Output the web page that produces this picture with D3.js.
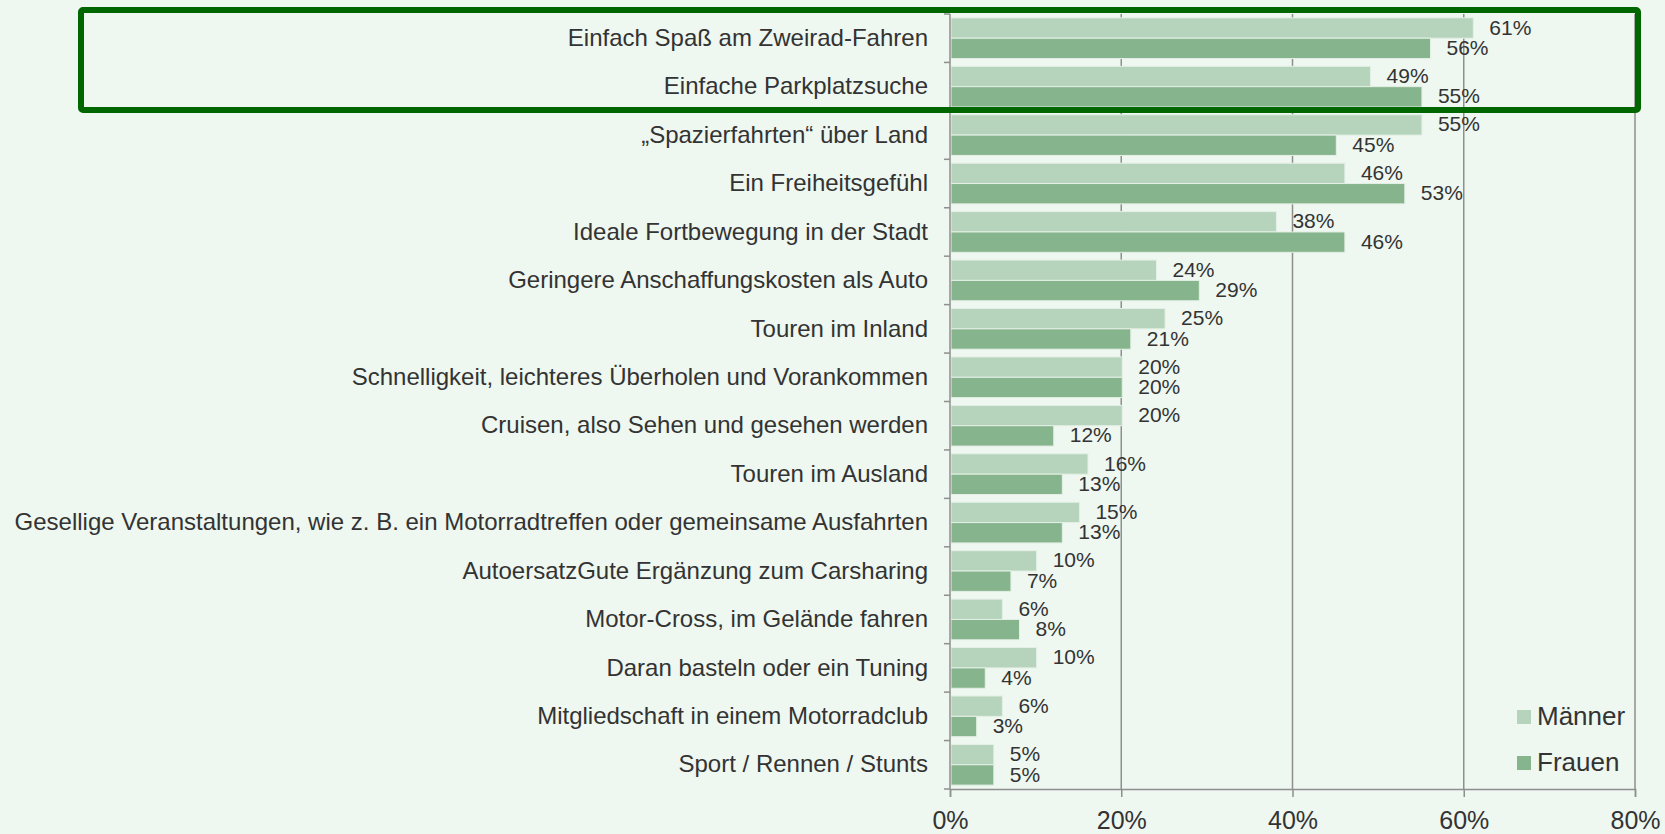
<!DOCTYPE html>
<html>
<head>
<meta charset="utf-8">
<script src="https://cdn.jsdelivr.net/npm/d3@7"></script>
<style>
  body { margin: 0; background: #eef7f0; }
  text { font-family: "Liberation Sans", Arial, sans-serif; fill: #333; }
</style>
</head>
<body>
<div id="display"></div>
<script>
// Werte
const categories = [
    "Einfach Spaß am Zweirad-Fahren",
    "Einfache Parkplatzsuche",
    "„Spazierfahrten“ über Land",
    "Ein Freiheitsgefühl",
    "Ideale Fortbewegung in der Stadt",
    "Geringere Anschaffungskosten als Auto",
    "Touren im Inland",
    "Schnelligkeit, leichteres Überholen und Vorankommen",
    "Cruisen, also Sehen und gesehen werden",
    "Touren im Ausland",
    "Gesellige Veranstaltungen, wie z. B. ein Motorradtreffen oder gemeinsame Ausfahrten",
    "AutoersatzGute Ergänzung zum Carsharing",
    "Motor-Cross, im Gelände fahren",
    "Daran basteln oder ein Tuning",
    "Mitgliedschaft in einem Motorradclub",
    "Sport / Rennen / Stunts"
];
const maenner = [61, 49, 55, 46, 38, 24, 25, 20, 20, 16, 15, 10, 6, 10, 6, 5];
const frauen  = [56, 55, 45, 53, 46, 29, 21, 20, 12, 13, 13, 7, 8, 4, 3, 5];
const series = ["Männer", "Frauen"];
const xTicks = [0, 20, 40, 60, 80];

const colors = { "Männer": "#b6d3bb", "Frauen": "#86b48d" };

const W = 1665, H = 834;
const m = { left: 950, right: 1635, top: 14, bottom: 789 };

const svg = d3.select('#display')
    .append('svg')
    .attr('width', W)
    .attr('height', H);

svg.append('rect')
    .attr('width', W).attr('height', H)
    .attr('fill', '#eef7f0');

const x = d3.scaleLinear().domain([0, 80]).range([m.left, m.right]);
const y = d3.scaleBand().domain(categories).range([m.top, m.bottom]).paddingInner(0.16).paddingOuter(0.08);
const ySub = d3.scaleBand().domain(series).range([0, y.bandwidth()]);

// Gitterlinien
svg.append('g')
    .selectAll('line')
    .data(xTicks.slice(1))
    .join('line')
    .attr('x1', d => x(d)).attr('x2', d => x(d))
    .attr('y1', m.top).attr('y2', m.bottom)
    .attr('stroke', '#8f8f8f')
    .attr('stroke-width', 1.5);

// Balken
const rows = categories.map((c, i) => ({ cat: c, "Männer": maenner[i], "Frauen": frauen[i] }));

const groups = svg.append('g')
    .selectAll('g')
    .data(rows)
    .join('g')
    .attr('transform', d => `translate(0, ${y(d.cat)})`);

series.forEach(function (s) {
    groups.append('rect')
        .attr('x', x(0) + 1)
        .attr('y', ySub(s))
        .attr('width', d => x(d[s]) - x(0))
        .attr('height', ySub.bandwidth())
        .attr('fill', colors[s])
        .attr('stroke', '#e4f0e6')
        .attr('stroke-width', 1);

    groups.append('text')
        .attr('x', d => x(d[s]) + 17)
        .attr('y', ySub(s) + ySub.bandwidth() / 2 + 1)
        .attr('dominant-baseline', 'middle')
        .attr('font-size', '21px')
        .text(d => d[s] + '%');
});

// y-Achse
const yAxis = d3.axisLeft(y).tickSize(0).tickPadding(22);
const yg = svg.append('g')
    .attr('transform', `translate(${m.left}, 0)`)
    .call(yAxis);
yg.select('.domain').remove();
yg.selectAll('text')
    .attr('font-size', '24px')
    .attr('fill', '#333');

svg.append('line')
    .attr('x1', m.left).attr('x2', m.left)
    .attr('y1', m.top).attr('y2', m.bottom)
    .attr('stroke', '#8f8f8f').attr('stroke-width', 1.5);

// kleine Striche zwischen den Kategorien
const step = (m.bottom - m.top) / categories.length;
svg.append('g')
    .selectAll('line')
    .data(d3.range(categories.length + 1))
    .join('line')
    .attr('x1', m.left - 6).attr('x2', m.left)
    .attr('y1', d => m.top + d * step).attr('y2', d => m.top + d * step)
    .attr('stroke', '#8f8f8f').attr('stroke-width', 1.5);

// x-Achse
const xAxis = d3.axisBottom(x)
    .tickValues(xTicks)
    .tickFormat(d => d + '%')
    .tickSize(8)
    .tickPadding(14);
const xg = svg.append('g')
    .attr('transform', `translate(0, ${m.bottom})`)
    .call(xAxis);
xg.select('.domain').attr('stroke', '#8f8f8f').attr('stroke-width', 1.5);
xg.selectAll('.tick line').attr('stroke', '#8f8f8f').attr('stroke-width', 1.5);
xg.selectAll('text')
    .attr('font-size', '25px')
    .attr('fill', '#333');

// Legende
const legend = svg.append('g')
    .selectAll('g')
    .data(series)
    .join('g')
    .attr('transform', (d, i) => `translate(1517, ${710 + i * 46})`);

legend.append('rect')
    .attr('width', 14).attr('height', 14)
    .attr('fill', d => colors[d]);

legend.append('text')
    .attr('x', 20)
    .attr('y', 8)
    .attr('dominant-baseline', 'middle')
    .attr('font-size', '26px')
    .text(d => d);

// Markierung der ersten beiden Kategorien
svg.append('rect')
    .attr('x', 81).attr('y', 10)
    .attr('width', 1638 - 81).attr('height', 110 - 10)
    .attr('rx', 2)
    .attr('fill', 'none')
    .attr('stroke', '#006600')
    .attr('stroke-width', 6);
</script>
</body>
</html>
